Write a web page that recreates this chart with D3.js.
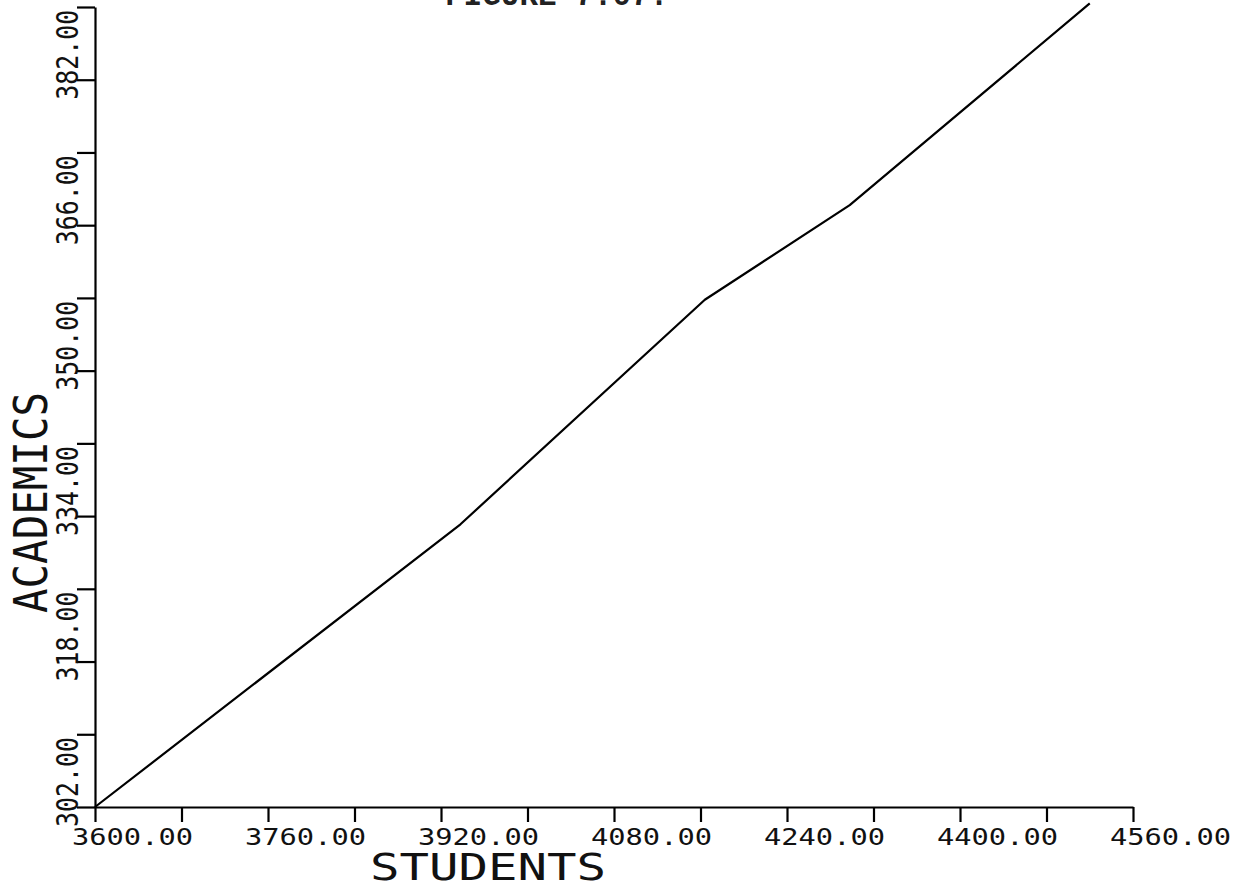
<!DOCTYPE html>
<html>
<head>
<meta charset="utf-8">
<script src="https://cdn.jsdelivr.net/npm/d3@7/dist/d3.min.js"></script>
<style>
  html, body { margin: 0; padding: 0; background: #fff; }
  svg { display: block; }
  .lbl { font-family: "DejaVu Sans Mono", monospace; fill: #111; }
</style>
</head>
<body>
<svg id="chart" width="1244" height="890"></svg>
<script>
// Enrolment vs. academic staff
const students  = [3600, 3938, 4164, 4298, 4520];
const academics = [302, 333.1, 357.8, 368.2, 390.4];

// Axis ticks and labels
const xTicks = [3600, 3680, 3760, 3840, 3920, 4000, 4080, 4160, 4240, 4320, 4400, 4480, 4560];
const xLabelValues = [3600, 3760, 3920, 4080, 4240, 4400, 4560];
const xLabels = ["3600.00", "3760.00", "3920.00", "4080.00", "4240.00", "4400.00", "4560.00"];
const yTicks = [302, 310, 318, 326, 334, 342, 350, 358, 366, 374, 382, 390];
const yLabelValues = [302, 318, 334, 350, 366, 382];
const yLabels = ["302.00", "318.00", "334.00", "350.00", "366.00", "382.00"];

const svg = d3.select("#chart");
svg.append("rect").attr("width", 1244).attr("height", 890).attr("fill", "#fff");

const x = d3.scaleLinear().domain([3600, 4560]).range([95, 1133]);
const y = d3.scaleLinear().domain([302, 390]).range([807, 7]);

// Title (runs off the top edge)
svg.append("text")
  .attr("x", 445).attr("y", 5)
  .attr("font-family", "Liberation Mono, monospace")
  .attr("font-weight", "bold")
  .attr("font-size", 31)
  .attr("fill", "#222")
  .text("FIGURE  7.07.");

// Axes
const xAxis = svg.append("g")
  .attr("transform", `translate(0,${y(302)})`)
  .call(d3.axisBottom(x).tickValues(xTicks).tickSize(15).tickSizeOuter(0).tickFormat(""));
const yAxis = svg.append("g")
  .attr("transform", `translate(${x(3600)},0)`)
  .call(d3.axisLeft(y).tickValues(yTicks).tickSize(18).tickSizeOuter(0).tickFormat(""));
[xAxis, yAxis].forEach(g => {
  g.select(".domain").attr("stroke", "#000").attr("stroke-width", 2.2);
  g.selectAll(".tick line").attr("stroke", "#000").attr("stroke-width", 2.2);
});

// X tick labels
svg.append("g").selectAll("text")
  .data(xLabelValues)
  .join("text")
  .attr("class", "lbl")
  .attr("x", d => x(d) - 23)
  .attr("y", 845)
  .attr("font-size", 23)
  .attr("textLength", 121)
  .attr("lengthAdjust", "spacingAndGlyphs")
  .text((d, i) => xLabels[i]);

// Y tick labels (rotated)
svg.append("g").selectAll("text")
  .data(yLabelValues)
  .join("text")
  .attr("class", "lbl")
  .attr("transform", d => `translate(78,${y(d) + 20}) rotate(-90)`)
  .attr("font-size", 30)
  .attr("textLength", 90)
  .attr("lengthAdjust", "spacingAndGlyphs")
  .text((d, i) => yLabels[i]);

// Axis titles
svg.append("text")
  .attr("class", "lbl")
  .attr("x", 370).attr("y", 880)
  .attr("font-size", 37)
  .attr("textLength", 236)
  .attr("lengthAdjust", "spacingAndGlyphs")
  .text("STUDENTS");

svg.append("text")
  .attr("class", "lbl")
  .attr("transform", "translate(47,613) rotate(-90)")
  .attr("font-size", 46)
  .attr("textLength", 221)
  .attr("lengthAdjust", "spacingAndGlyphs")
  .text("ACADEMICS");

// Data line
const pts = students.map((s, i) => [s, academics[i]]);
svg.append("path")
  .datum(pts)
  .attr("fill", "none")
  .attr("stroke", "#000")
  .attr("stroke-width", 2.2)
  .attr("stroke-linejoin", "round")
  .attr("d", d3.line().x(d => x(d[0])).y(d => y(d[1])));
</script>
</body>
</html>
